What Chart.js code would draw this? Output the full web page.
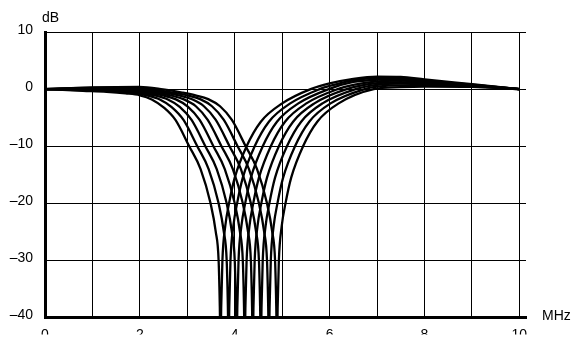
<!DOCTYPE html>
<html>
<head>
<meta charset="utf-8">
<title>Notch response</title>
<script src="https://cdn.jsdelivr.net/npm/chart.js@4/dist/chart.umd.min.js"></script>
<style>
  html, body { margin: 0; padding: 0; background: #fff; }
  #wrap { width: 575px; height: 338px; }
</style>
</head>
<body>
<div id="wrap"><canvas id="notchChart"></canvas></div>
<script>
// Amplitude response [MHz, dB], one curve per notch setting (3.7 ... 4.9 MHz)
const curve1 = [[0, 0], [0.8, -0.3], [1.3, -0.48], [1.7, -0.75], [2.0, -1.08], [2.25, -1.8], [2.5, -3.2], [2.75, -5.4], [3.04, -10], [3.28, -14], [3.49, -20], [3.6, -25], [3.66, -30], [3.685, -38], [3.7, -46],
  [3.715, -38], [3.74, -30], [3.8, -24], [3.88, -20], [4.0, -15.5], [4.25, -10], [4.55, -5.7], [5.0, -2.5], [5.6, 0], [6.0, 1.0], [6.5, 1.8], [7, 2.2], [7.5, 2.15], [8, 1.7], [9, 0.85], [10, 0]];
const curve2 = [[0, 0], [0.97, -0.22], [1.47, -0.43], [1.87, -0.74], [2.17, -1.15], [2.42, -1.82], [2.67, -3.15], [2.92, -5.4], [3.21, -10], [3.45, -14], [3.66, -20], [3.77, -25], [3.83, -30], [3.855, -38], [3.87, -46],
  [3.885, -38], [3.91, -30], [3.97, -24], [4.05, -20], [4.17, -15.5], [4.42, -10], [4.72, -5.7], [5.17, -2.5], [5.79, 0], [6.0, 0.55], [6.5, 1.55], [7, 1.95], [7.5, 1.95], [8, 1.52], [9, 0.79], [10, 0]];
const curve3 = [[0, 0], [1.14, -0.13], [1.64, -0.37], [2.04, -0.72], [2.34, -1.15], [2.59, -1.82], [2.84, -3.1], [3.09, -5.4], [3.38, -10], [3.62, -14], [3.83, -20], [3.94, -25], [4.0, -30], [4.025, -38], [4.04, -46],
  [4.055, -38], [4.08, -30], [4.14, -24], [4.22, -20], [4.34, -15.5], [4.59, -10], [4.89, -5.7], [5.34, -2.5], [5.98, 0], [6.5, 1.25], [7, 1.65], [7.5, 1.72], [8, 1.34], [9, 0.72], [10, 0]];
const curve4 = [[0, 0], [0.8, -0.04], [1.31, -0.03], [1.81, -0.31], [2.21, -0.7], [2.51, -1.15], [2.76, -1.8], [3.01, -3.05], [3.26, -5.4], [3.55, -10], [3.79, -14], [4.0, -20], [4.11, -25], [4.17, -30], [4.195, -38], [4.21, -46],
  [4.225, -38], [4.25, -30], [4.31, -24], [4.39, -20], [4.51, -15.5], [4.76, -10], [5.06, -5.7], [5.51, -2.5], [6.17, 0], [6.5, 0.75], [7, 1.35], [7.5, 1.47], [8, 1.16], [9, 0.66], [10, 0]];
const curve5 = [[0, 0], [0.8, 0.04], [1.48, 0.08], [1.98, -0.24], [2.38, -0.68], [2.68, -1.16], [2.93, -1.8], [3.18, -3.0], [3.43, -5.4], [3.72, -10], [3.96, -14], [4.17, -20], [4.28, -25], [4.34, -30], [4.365, -38], [4.38, -46],
  [4.395, -38], [4.42, -30], [4.48, -24], [4.56, -20], [4.68, -15.5], [4.93, -10], [5.23, -5.7], [5.68, -2.5], [6.36, 0], [7, 1.05], [7.5, 1.2], [8, 0.98], [9, 0.59], [10, 0]];
const curve6 = [[0, 0], [0.8, 0.12], [1.65, 0.19], [2.15, -0.18], [2.55, -0.66], [2.85, -1.15], [3.1, -1.78], [3.35, -3.0], [3.6, -5.4], [3.89, -10], [4.13, -14], [4.34, -20], [4.45, -25], [4.51, -30], [4.535, -38], [4.55, -46],
  [4.565, -38], [4.59, -30], [4.65, -24], [4.73, -20], [4.85, -15.5], [5.1, -10], [5.4, -5.7], [5.85, -2.5], [6.55, 0], [7, 0.75], [7.5, 0.95], [8, 0.8], [9, 0.53], [10, 0]];
const curve7 = [[0, 0], [0.8, 0.2], [1.82, 0.29], [2.32, -0.12], [2.72, -0.64], [3.02, -1.14], [3.27, -1.76], [3.52, -3.0], [3.77, -5.4], [4.06, -10], [4.3, -14], [4.51, -20], [4.62, -25], [4.68, -30], [4.705, -38], [4.72, -46],
  [4.735, -38], [4.76, -30], [4.82, -24], [4.9, -20], [5.02, -15.5], [5.27, -10], [5.57, -5.7], [6.02, -2.5], [6.74, 0], [7, 0.42], [7.5, 0.65], [8, 0.62], [9, 0.46], [10, 0]];
const curve8 = [[0, 0], [1, 0.3], [1.99, 0.4], [2.49, -0.05], [2.89, -0.6], [3.19, -1.12], [3.44, -1.75], [3.69, -3.0], [3.94, -5.4], [4.23, -10], [4.47, -14], [4.68, -20], [4.79, -25], [4.85, -30], [4.875, -38], [4.89, -46],
  [4.905, -38], [4.93, -30], [4.99, -24], [5.07, -20], [5.19, -15.5], [5.44, -10], [5.74, -5.7], [6.19, -2.5], [6.93, 0], [7.5, 0.35], [8, 0.45], [9, 0.4], [10, 0]];

const curves = [curve1, curve2, curve3, curve4, curve5, curve6, curve7, curve8];

// axis labelling
const xLabelled = [0, 2, 4, 6, 8, 10];
const xUnit = 'MHz';
const yUnit = 'dB';

const labelFont = { family: '"Liberation Sans", Arial, Helvetica, sans-serif', size: 14 };

// unit captions next to the axes
const axisUnits = {
    id: 'axisUnits',
    afterDraw(chart) {
        const { ctx, chartArea } = chart;
        ctx.save();
        ctx.font = '14px "Liberation Sans", Arial, Helvetica, sans-serif';
        ctx.fillStyle = '#000';
        ctx.textBaseline = 'alphabetic';
        ctx.fillText(yUnit, chartArea.left - 3, 22);
        ctx.fillText(xUnit, chartArea.right + 16, chartArea.bottom + 2);
        ctx.restore();
    }
};

const ctx = document.getElementById('notchChart').getContext('2d');
const notchChart = new Chart(ctx, {
    type: 'line',
    data: {
        datasets: curves.map(c => ({
            data: c.map(([x, y]) => ({ x, y })),
            borderColor: '#000',
            borderWidth: 2.3,
            pointRadius: 0,
            fill: false,
            cubicInterpolationMode: 'monotone',
            clip: 0
        }))
    },
    options: {
        responsive: true,
        maintainAspectRatio: false,
        animation: false,
        layout: { padding: { top: 32, right: 49, left: 0, bottom: 0 } },
        plugins: {
            legend: { display: false },
            tooltip: { enabled: false }
        },
        scales: {
            x: {
                type: 'linear',
                min: 0,
                max: 10.14,
                afterFit: s => { s.height = 17; },
                grid: { color: '#000', lineWidth: 1, drawTicks: false },
                border: { color: '#000', width: 3 },
                ticks: {
                    stepSize: 1,
                    includeBounds: false,
                    maxRotation: 0,
                    autoSkip: false,
                    padding: 9,
                    color: '#000',
                    font: labelFont,
                    callback: v => xLabelled.includes(v) ? String(v) : ''
                }
            },
            y: {
                min: -40,
                max: 10,
                afterFit: s => { s.width = 45; },
                grid: { color: '#000', lineWidth: 1, drawTicks: false },
                border: { color: '#000', width: 3 },
                ticks: {
                    stepSize: 10,
                    padding: 12,
                    labelOffset: -2,
                    color: '#000',
                    font: labelFont,
                    callback: v => v < 0 ? '\u2013' + Math.abs(v) : String(v)
                }
            }
        }
    },
    plugins: [axisUnits]
});
</script>
</body>
</html>
